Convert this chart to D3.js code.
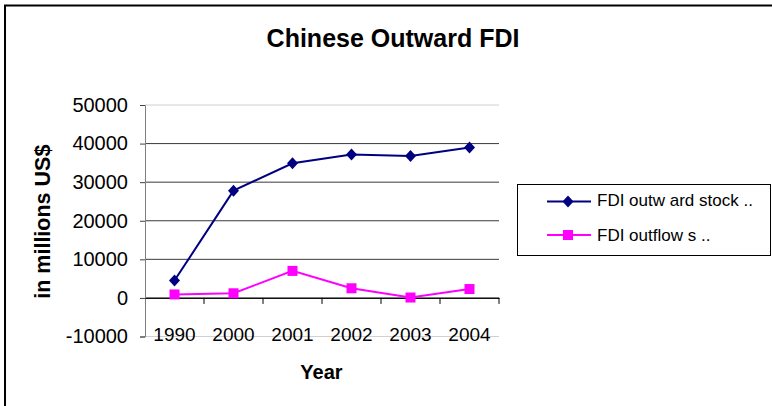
<!DOCTYPE html>
<html><head><meta charset="utf-8">
<script src="https://cdn.jsdelivr.net/npm/d3@7"></script>
<style>body{margin:0;background:#fff}svg{display:block}text{font-family:"Liberation Sans",Arial,sans-serif}</style>
</head><body>
<script>
const years = ["1990","2000","2001","2002","2003","2004"];
const stockValues = [4500, 27800, 34900, 37200, 36800, 39000];
const flowValues = [900, 1200, 7000, 2500, 100, 2300];
const yTicks = [-10000, 0, 10000, 20000, 30000, 40000, 50000];
const seriesNames = ["FDI outw ard stock ..", "FDI outflow s .."];

const W = 772, H = 406;
const svg = d3.select("body").append("svg").attr("width", W).attr("height", H);

// outer border (right/bottom off-canvas)
svg.append("rect").attr("x",5).attr("y",5.5).attr("width",900).attr("height",600)
  .attr("fill","none").attr("stroke","#000").attr("stroke-width",2);

const pLeft = 145, pRight = 499, pTop = 105, pBottom = 336.5;
const x = d3.scaleBand().domain(years).range([pLeft, pRight]);
const y = d3.scaleLinear().domain([-10000, 50000]).range([pBottom, pTop]);

// gridlines
svg.append("g").selectAll("line").data(yTicks).join("line")
  .attr("x1", pLeft).attr("x2", pRight)
  .attr("y1", d => y(d)).attr("y2", d => y(d))
  .attr("stroke", d => (d === 50000 || d === -10000) ? "#d0d0d0" : "#3a3a3a")
  .attr("stroke-width", 1);

// y axis
const yAxis = svg.append("g").attr("transform", `translate(${pLeft},0)`)
  .call(d3.axisLeft(y).tickValues(yTicks).tickSize(5).tickPadding(12).tickFormat(d => String(d)));
yAxis.select(".domain").attr("stroke", "#808080");
yAxis.selectAll(".tick line").attr("stroke", "#404040");
yAxis.selectAll("text").attr("font-size", 20).attr("fill", "#000");

// x axis at zero
const xAxis = svg.append("g").attr("transform", `translate(0,${y(0)})`)
  .call(d3.axisBottom(x).tickSize(0).tickPadding(30));
xAxis.select(".domain").attr("stroke", "#000");
xAxis.selectAll("text").attr("font-size", 19).attr("fill", "#000");
// tick marks at band boundaries
svg.append("g").selectAll("line").data(years).join("line")
  .attr("x1", d => x(d) + x.bandwidth()).attr("x2", d => x(d) + x.bandwidth())
  .attr("y1", y(0)).attr("y2", y(0) + 6).attr("stroke", "#000");

const cx = d => x(d) + x.bandwidth() / 2;
const line = d3.line().x((d, i) => cx(years[i])).y(d => y(d));

// stock series
svg.append("path").datum(stockValues).attr("d", line)
  .attr("fill", "none").attr("stroke", "#000080").attr("stroke-width", 2);
svg.append("g").selectAll("path").data(stockValues).join("path")
  .attr("d", "M0,-6L5.5,0L0,6L-5.5,0Z")
  .attr("transform", (d, i) => `translate(${cx(years[i])},${y(d)})`)
  .attr("fill", "#000080");

// flow series
svg.append("path").datum(flowValues).attr("d", line)
  .attr("fill", "none").attr("stroke", "#FF00FF").attr("stroke-width", 2);
svg.append("g").selectAll("rect").data(flowValues).join("rect")
  .attr("x", (d, i) => cx(years[i]) - 5).attr("y", d => y(d) - 5)
  .attr("width", 10).attr("height", 10).attr("fill", "#FF00FF");

// title
svg.append("text").attr("x", 393).attr("y", 47).attr("text-anchor", "middle")
  .attr("font-size", 25).attr("font-weight", "bold").text("Chinese Outward FDI");

// axis titles
svg.append("text").attr("x", 321.5).attr("y", 378.5).attr("text-anchor", "middle")
  .attr("font-size", 20).attr("font-weight", "bold").text("Year");
svg.append("text").attr("transform", "translate(50,221.7) rotate(-90)").attr("text-anchor", "middle")
  .attr("font-size", 21.5).attr("font-weight", "bold").text("in millions US$");

// legend
const lg = svg.append("g");
lg.append("rect").attr("x", 517.5).attr("y", 184.5).attr("width", 253).attr("height", 71)
  .attr("fill", "#fff").attr("stroke", "#000").attr("stroke-width", 1);
const rows = [{c:"#000080", m:"diamond", yy:201.5, base:206}, {c:"#FF00FF", m:"square", yy:235, base:241}];
rows.forEach((r, i) => {
  lg.append("line").attr("x1", 547).attr("x2", 591).attr("y1", r.yy).attr("y2", r.yy)
    .attr("stroke", r.c).attr("stroke-width", 2);
  if (r.m === "diamond") {
    lg.append("path").attr("d", "M0,-6L5.5,0L0,6L-5.5,0Z").attr("transform", `translate(568,${r.yy})`).attr("fill", r.c);
  } else {
    lg.append("rect").attr("x", 563).attr("y", r.yy - 5).attr("width", 10).attr("height", 10).attr("fill", r.c);
  }
  lg.append("text").attr("x", 597).attr("y", r.base).attr("font-size", 17).text(seriesNames[i]);
});
</script>
</body></html>
